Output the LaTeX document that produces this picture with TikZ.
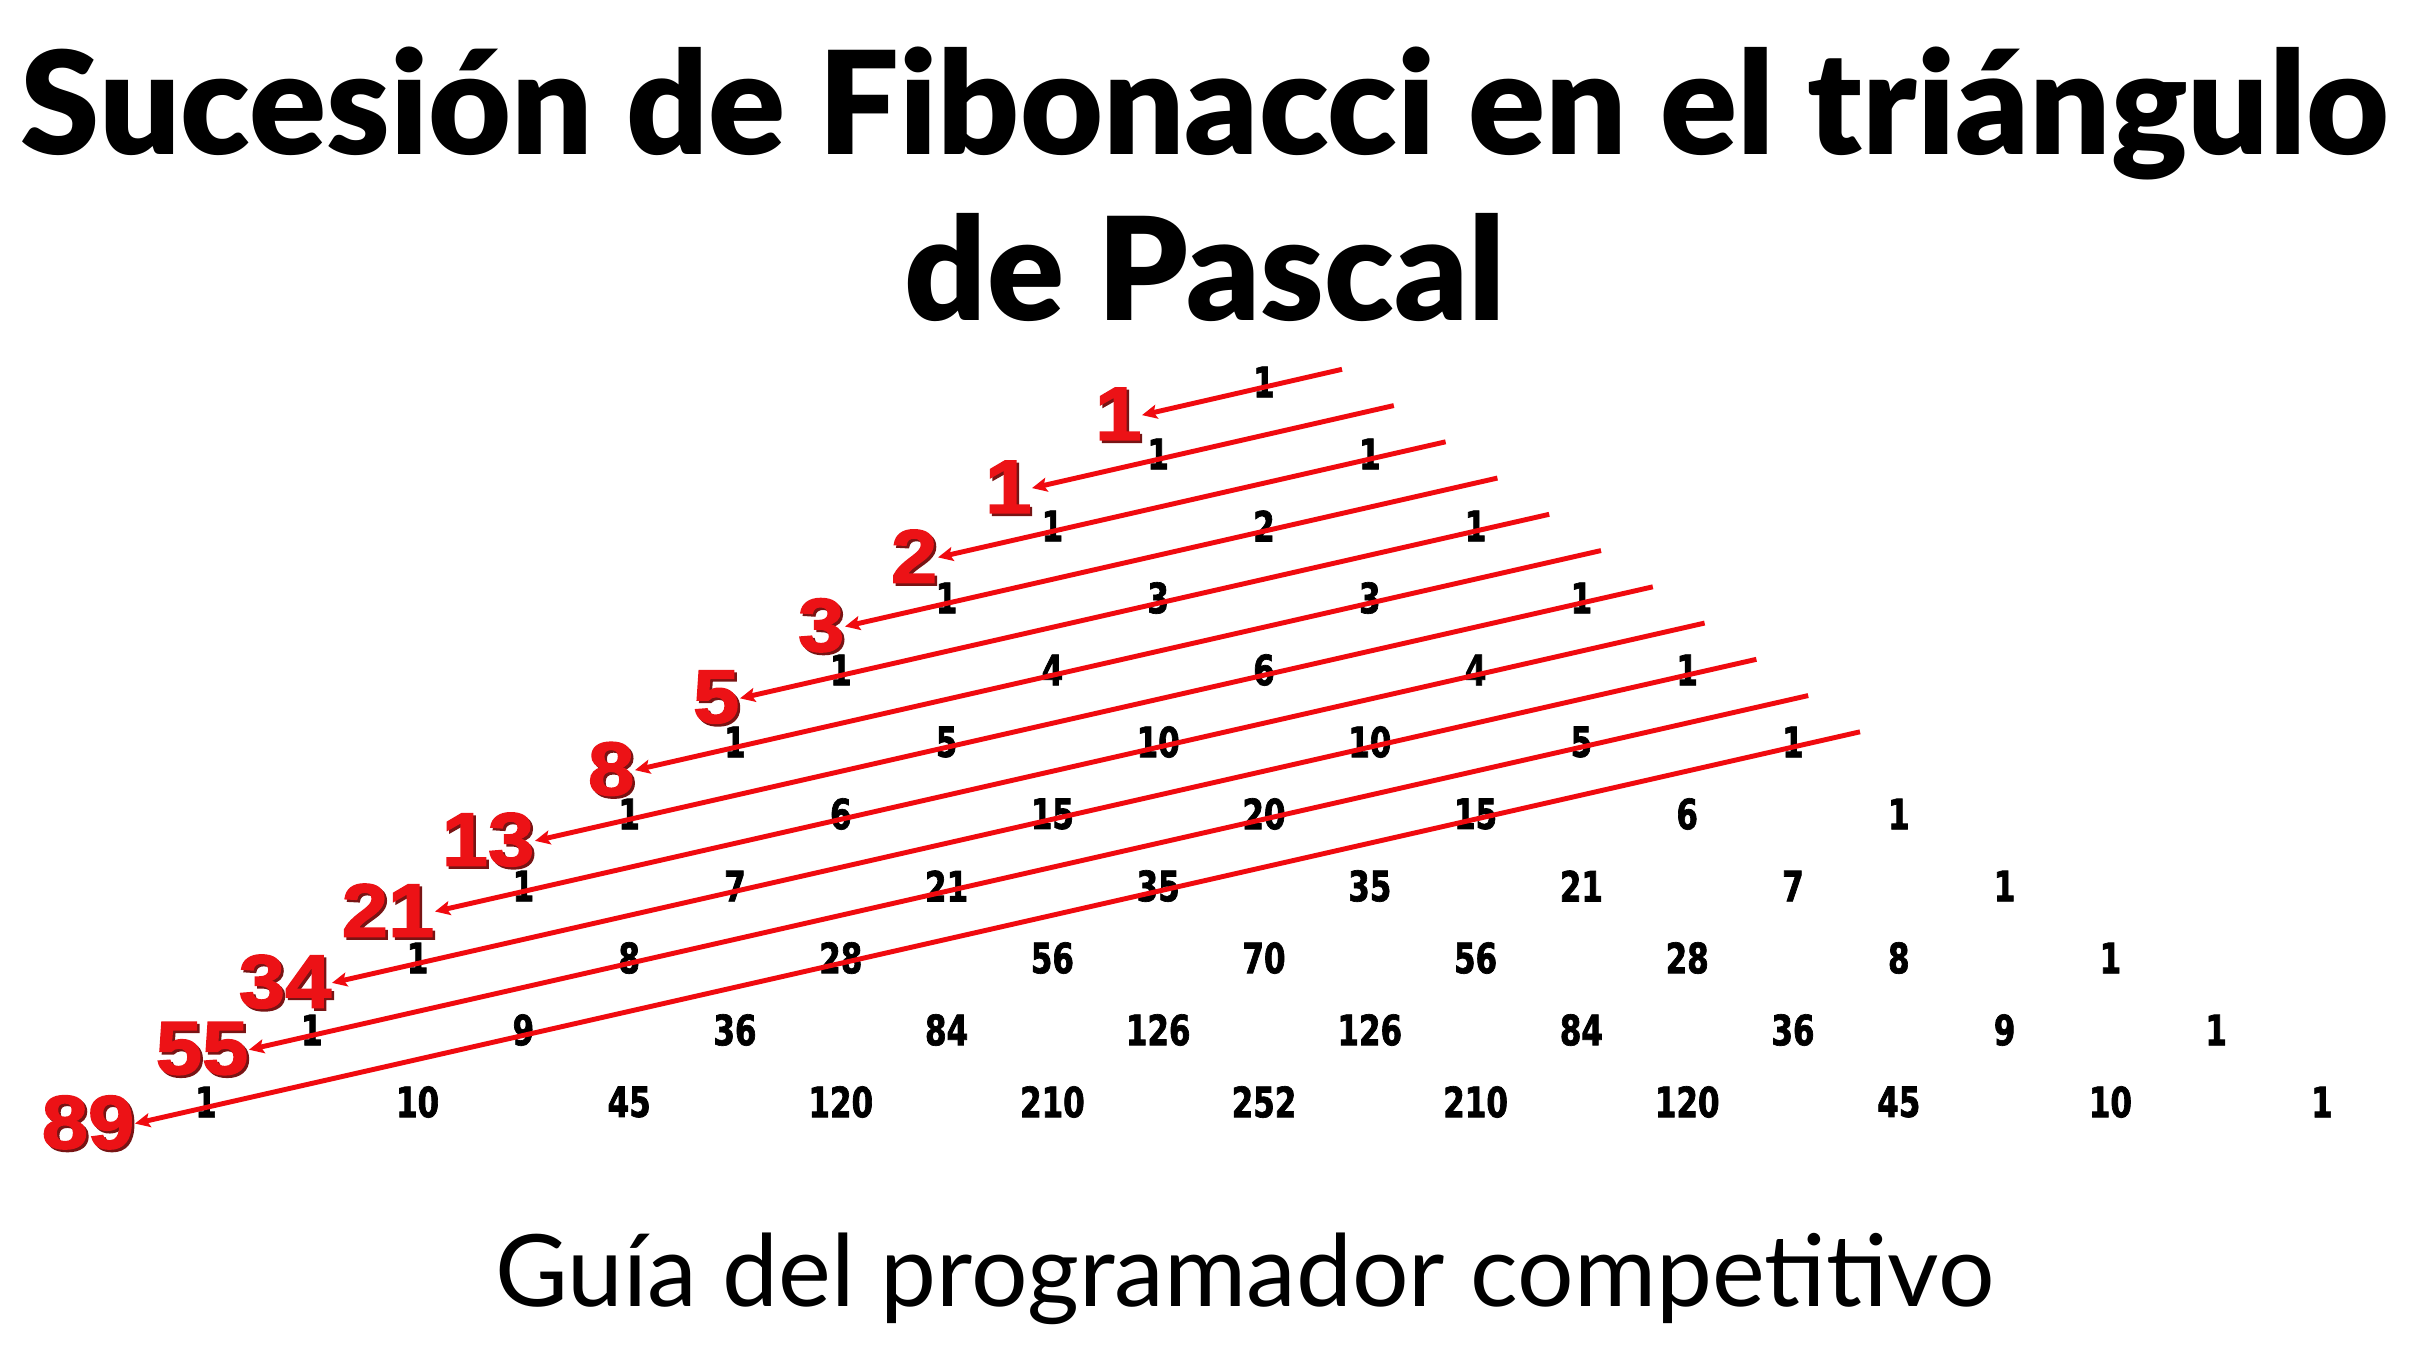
\documentclass[tikz,border=0pt]{standalone}
\usepackage{fontspec}
\usepackage{graphicx}
\usetikzlibrary{arrows.meta}
\setmainfont{Lato}
\newfontfamily\titlefont{Lato Black}
\newfontfamily\numfont{DejaVu Sans Bold}[FakeStretch=0.74,FakeBold=1.6]
\newfontfamily\fibfont{Liberation Sans Bold}[FakeBold=2,FakeStretch=1.1]
\definecolor{fibred}{RGB}{236,18,22}
\definecolor{fibshade}{RGB}{120,20,20}
\definecolor{linered}{RGB}{240,10,15}
\newcommand{\fibtxt}[1]{\makebox[0pt][l]{\raisebox{-0.7pt}{\hspace{0.7pt}\textcolor{fibshade}{#1}}}#1}
\begin{document}
\begin{tikzpicture}[x=0.01cm,y=-0.01cm,
  pas/.style={inner sep=0pt,font=\numfont\fontsize{11.9pt}{12pt}\selectfont,text=black},
  fib/.style={inner sep=0pt,anchor=east,font=\fibfont\fontsize{21.5pt}{22pt}\selectfont,text=fibred},
  fibline/.style={draw=linered,line width=1.4pt,-{Stealth[length=0.15cm,width=0.14cm,inset=0.03cm]}},
  ttl/.style={inner sep=0pt,anchor=base,font=\titlefont\fontsize{40.7pt}{48pt}\selectfont},
  sub/.style={inner sep=0pt,anchor=base,font=\fontsize{28.4pt}{34pt}\selectfont}]
\useasboundingbox (0,0) rectangle (2411,1345);
\fill[white] (0,0) rectangle (2411,1345);
% titles
\node[ttl] (t1) at (1205,154) {Sucesión de Fibonacci en el triángulo};
\node[ttl] (t2) at (1205,320) {de Pascal};
\node[sub] (st) at (1245,1306) {Guía del programador competitivo};
% Pascal triangle
\foreach \n/\vals in {0/{1},1/{1,1},2/{1,2,1},3/{1,3,3,1},4/{1,4,6,4,1},
  5/{1,5,10,10,5,1},6/{1,6,15,20,15,6,1},7/{1,7,21,35,35,21,7,1},
  8/{1,8,28,56,70,56,28,8,1},9/{1,9,36,84,126,126,84,36,9,1},
  10/{1,10,45,120,210,252,210,120,45,10,1}}{
  \foreach \v [count=\c from 0] in \vals {
    \pgfmathsetmacro\px{1264+(2*\c-\n)*105.8}
    \pgfmathsetmacro\py{382+72*\n}
    \node[pas] (p\n-\c) at (\px,\py) {\v};
  }
}
% Fibonacci diagonals
\foreach \n/\xt/\fv in {0/1140/1,1/1030/1,2/936/2,3/843/3,4/738/5,5/633/8,
  6/533/13,7/433/21,8/330/34,9/247/55,10/133/89}{
  \pgfmathsetmacro\xo{1264-105.8*\n}
  \pgfmathsetmacro\yo{387+72*\n}
  \pgfmathsetmacro\xe{1342+51.8*\n}
  \pgfmathsetmacro\ye{\yo-0.22684*(\xe-\xo)}
  \pgfmathsetmacro\yt{\yo+0.22684*(\xo-\xt)}
  \coordinate (e\n) at (\xe,\ye);
  \node[fib] (f\n) at (\xt+2,\yt) {\fibtxt{\fv}};
  \draw[fibline] (e\n) -- (f\n.east);
}
\end{tikzpicture}
\end{document}
